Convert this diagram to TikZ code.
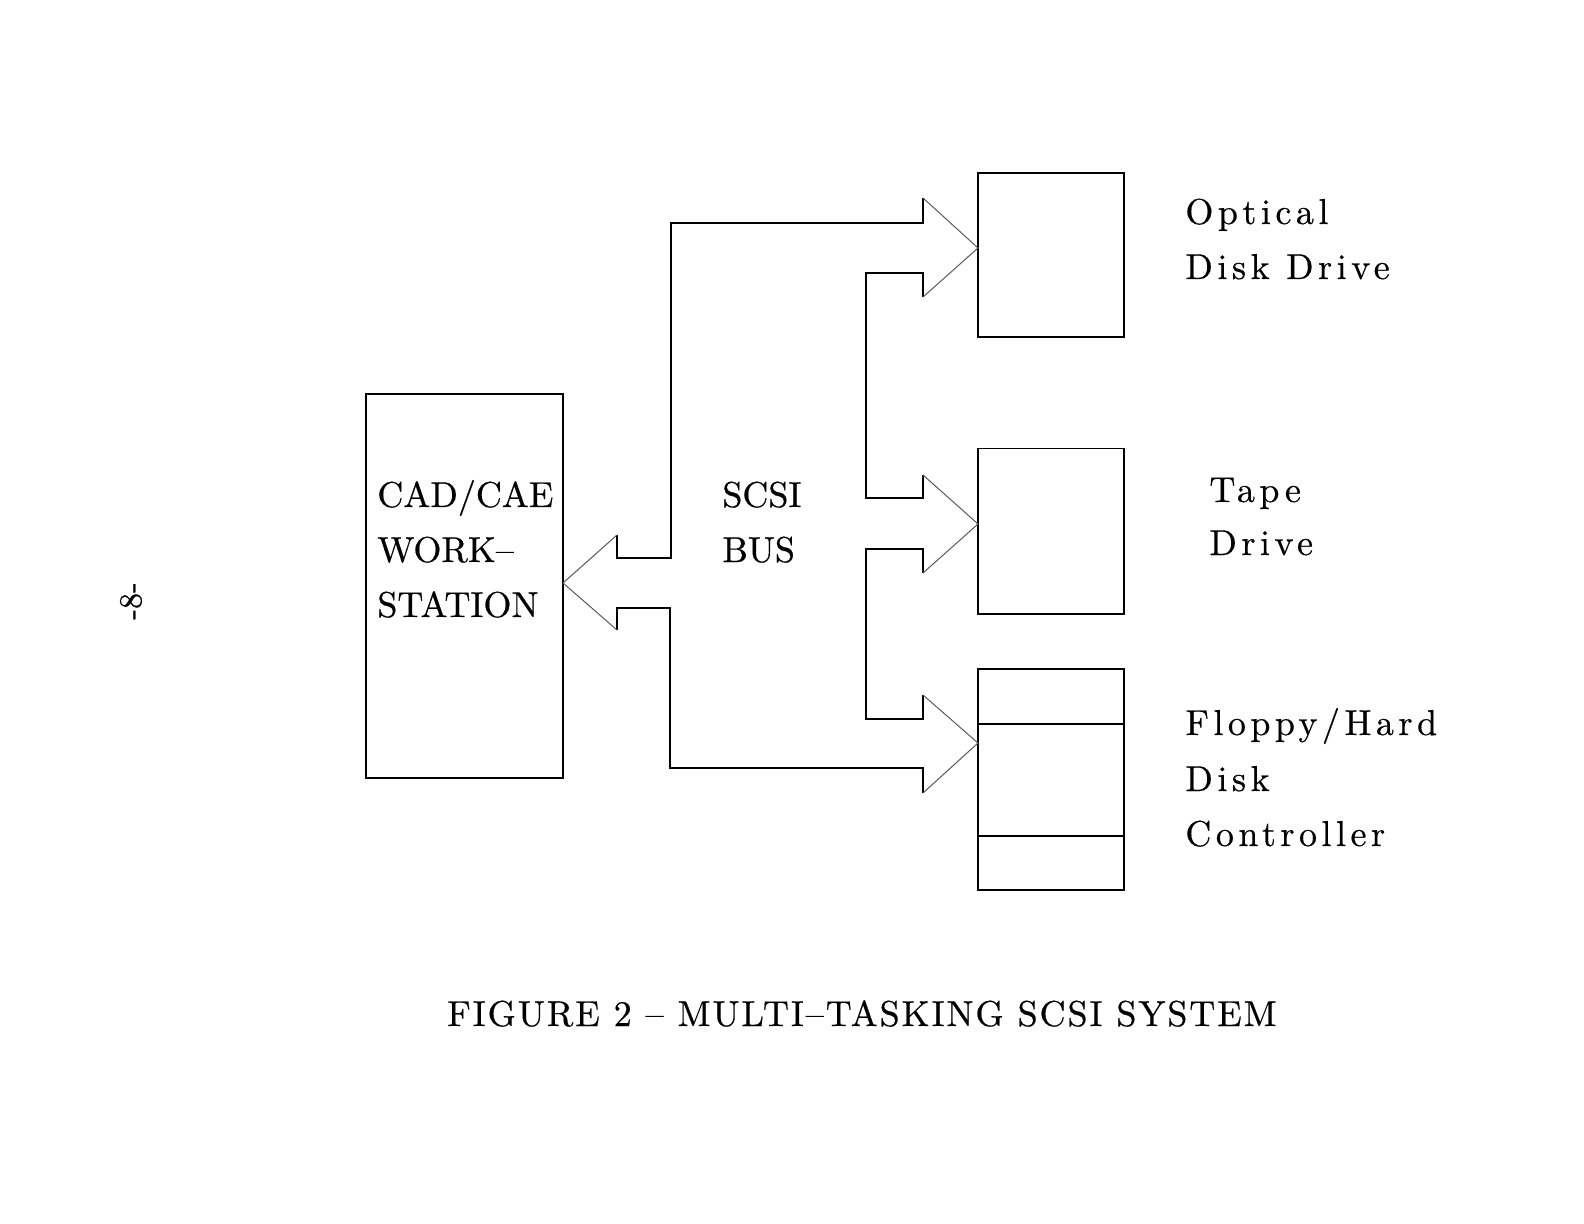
\documentclass[tikz,border=0pt]{standalone}
\usepackage{fontspec}
\newfontfamily\lmplain{lmroman10-regular.otf}[FakeBold=0.5]
\newfontfamily\lmspaced{lmroman10-regular.otf}[LetterSpace=12.5,FakeBold=0.5]
\newfontfamily\lmcaption{lmroman10-regular.otf}[LetterSpace=5.4,FakeBold=0.5]
\begin{document}
\begin{tikzpicture}[x=0.5pt,y=-0.5pt,
  box/.style={draw, line width=0.9pt, inner sep=0pt, outer sep=0pt, anchor=north west},
  busline/.style={line width=0.9pt, line join=miter},
  headline/.style={line width=0.5pt, draw=black!65},
  lbl/.style={anchor=base west, inner sep=0pt, font=\lmspaced\fontsize{18}{22}\selectfont},
  caplbl/.style={anchor=base west, inner sep=0pt, font=\lmplain\fontsize{18}{22}\selectfont},
  captionlbl/.style={anchor=base, inner sep=0pt, font=\lmcaption\fontsize{18}{22}\selectfont}
]
\useasboundingbox (0,0) rectangle (1584,1224);

% boxes
\node[box, minimum width=98.5pt, minimum height=192pt] (ws) at (366,394) {};
\node[box, minimum width=73pt, minimum height=82pt] (opt) at (978,173) {};
\node[box, minimum width=73pt, minimum height=82.75pt] (tape) at (978,448.5) {};
\node[box, minimum width=73pt, minimum height=110.5pt] (flop) at (978,669) {};
\draw[line width=0.9pt] (flop.west |- 0,724.3) -- (flop.east |- 0,724.3);
\draw[line width=0.9pt] (flop.west |- 0,835.7) -- (flop.east |- 0,835.7);

% arrow tips
\coordinate (tws) at (563,583);
\coordinate (topt) at (978,248);
\coordinate (ttape) at (978,524);
\coordinate (tflop) at (978,743);

% bus outline: straight parts
\draw[busline] (617,535) -- (617,558) -- (671,558) -- (671,223) -- (923,223) -- (923,198);
\draw[busline] (923,297) -- (923,273) -- (866,273) -- (866,498) -- (923,498) -- (923,475);
\draw[busline] (923,573) -- (923,549) -- (866,549) -- (866,719) -- (923,719) -- (923,695);
\draw[busline] (923,793) -- (923,768) -- (670,768) -- (670,608) -- (617,608) -- (617,630);
% bus outline: arrow heads
\draw[headline] (923,198) -- (topt) -- (923,297);
\draw[headline] (923,475) -- (ttape) -- (923,573);
\draw[headline] (923,695) -- (tflop) -- (923,793);
\draw[headline] (617,630) -- (tws) -- (617,535);

% workstation text
\node[caplbl] (ws1) at (377,507) {CAD/CAE};
\node[caplbl] (ws2) at (377,562) {WORK–};
\node[caplbl] (ws3) at (377,617) {STATION};

% bus text
\node[caplbl] (bus1) at (722,507) {SCSI};
\node[caplbl] (bus2) at (722,562) {BUS};

% device labels
\node[lbl] (o1) at (1185,224) {Optical};
\node[lbl] (o2) at (1185,279) {Disk Drive};
\node[lbl] (t1) at (1209,502) {Tape};
\node[lbl] (t2) at (1209,555) {Drive};
\node[lbl] (f1) at (1185,735) {Floppy/Hard};
\node[lbl] (f2) at (1185,791) {Disk};
\node[lbl] (f3) at (1185,846) {Controller};

% caption
\node[captionlbl] (cap) at (862,1026) {FIGURE 2 – MULTI–TASKING SCSI SYSTEM};

% page number
\node[rotate=90, inner sep=0pt, font=\lmplain\fontsize{16}{18}\selectfont] (pg) at (131,601) {-8-};
\end{tikzpicture}
\end{document}
